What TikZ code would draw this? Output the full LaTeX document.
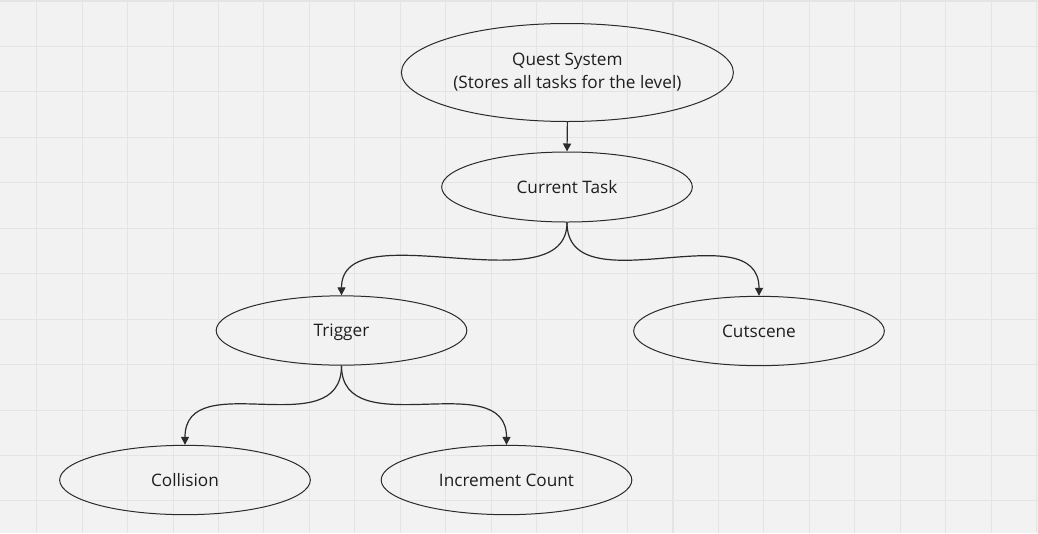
\documentclass[tikz,border=0pt]{standalone}
\usepackage{fontspec}
\setmainfont{Open Sans}
\usepackage{xcolor}
\usepackage{tikz}
\usetikzlibrary{shapes.geometric,arrows.meta}

\definecolor{paper}{HTML}{F2F2F2}
\definecolor{gridgray}{HTML}{E4E4E4}
\definecolor{ink}{HTML}{2B2B2B}
\definecolor{textink}{HTML}{1E1E1E}

\begin{document}
\begin{tikzpicture}[x=0.75pt,y=-0.75pt,
		bubble/.style={ellipse,draw=ink,line width=0.75pt,inner sep=0pt,
			minimum width=188pt,minimum height=52pt,text=textink,text depth=0pt,
			font=\fontsize{12.9pt}{17.3pt}\selectfont},
		link/.style={draw=ink,line width=0.9pt,-{Triangle[length=6pt,width=6pt]}},
		gridline/.style={gridgray,line width=0.8pt}]
		\useasboundingbox[fill=paper] (0,0) rectangle (1038,533);
		% background grid
		\foreach \i in {0,...,22} \draw[gridline] ({36.7+45.45*\i},0) -- ++(0,533);
		\foreach \j in {0,...,11} \draw[gridline] (0,{1+45.45*\j}) -- ++(1038,0);
		
		\node[bubble,minimum width=249pt,minimum height=73.5pt,align=center,text depth=] (quest) at (567.4,72.5) {Quest System\\(Stores all tasks for the level)};
		\node[bubble,minimum height=52.5pt] (task) at (567,187) {Current Task};
		\node[bubble] (trig) at (341.5,330.5) {Trigger};
		\node[bubble] (cut) at (759,331) {Cutscene};
		\node[bubble] (coll) at (185,480) {Collision};
		\node[bubble] (inc) at (506.5,480) {Increment Count};
		
		\draw[link] (quest.south) -- (task.north);
		% curved links: down out of the parent, down into the child
		\draw[link] (task.south) .. controls +(0,85) and +(0,-85) .. (trig.north);
		\draw[link] (task.south) .. controls +(0,85) and +(0,-85) .. (cut.north);
		\draw[link] (trig.south) .. controls +(0,80) and +(0,-80) .. (coll.north);
		\draw[link] (trig.south) .. controls +(0,80) and +(0,-80) .. (inc.north);
	\end{tikzpicture}
\end{document}
